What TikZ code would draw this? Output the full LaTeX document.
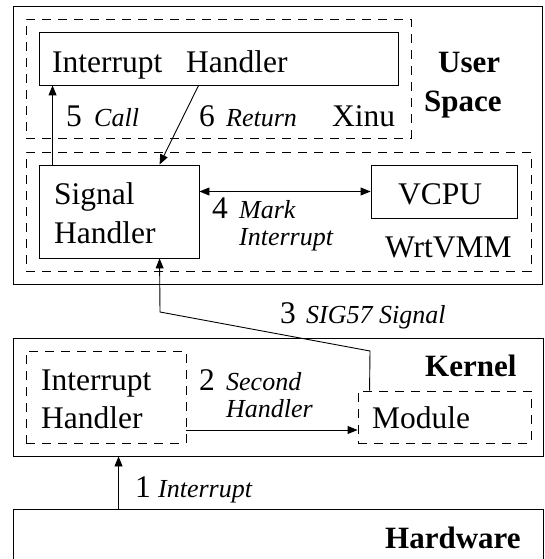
\documentclass[tikz,border=0pt]{standalone}
\usepackage{fontspec}
\setmainfont{Liberation Serif}
\usetikzlibrary{arrows.meta}
\begin{document}
\begin{tikzpicture}[x=1pt,y=-1pt,
  box/.style={draw,line width=0.9pt,rectangle,inner sep=0pt,anchor=center},
  dbox/.style={draw,line width=0.9pt,rectangle,inner sep=0pt,anchor=center,dash pattern=on 9pt off 7pt},
  conn/.style={line width=0.9pt,-{Triangle[length=10pt,width=8pt]}},
  conn2/.style={line width=0.9pt,{Triangle[length=10pt,width=8pt]}-{Triangle[length=10pt,width=8pt]}},
  txt/.style={anchor=base west,inner sep=0pt,font=\fontsize{31.5}{37}\selectfont},
  itxt/.style={anchor=base west,inner sep=0pt,font=\fontsize{26}{31}\selectfont\itshape},
  btxt/.style={anchor=base west,inner sep=0pt,font=\fontsize{31}{37}\selectfont\bfseries}]
\useasboundingbox (0,0) rectangle (544,559);
\clip (0,0) rectangle (544,559);
% boxes
\node[box,minimum width=529pt,minimum height=278pt] (user) at (277.5,145) {};
\node[dbox,minimum width=385pt,minimum height=119pt] (xinu) at (218.5,78.5) {};
\node[box,minimum width=359pt,minimum height=53pt] (ih) at (218.5,58.5) {};
\node[dbox,minimum width=505pt,minimum height=119pt] (wrt) at (278.5,211.5) {};
\node[box,minimum width=160pt,minimum height=93pt] (sig) at (119,211.5) {};
\node[box,minimum width=146pt,minimum height=53pt] (vcpu) at (444,191.5) {};
\node[box,minimum width=530pt,minimum height=118pt] (kernel) at (278,397) {};
\node[dbox,minimum width=160pt,minimum height=92pt] (kih) at (106,397) {};
\node[dbox,minimum width=173pt,minimum height=52pt] (mod) at (444.5,417) {};
\node[box,minimum width=530pt,minimum height=71pt] (hw) at (278,544.5) {};
% texts
\node[txt] (tih) at (52,73) {Interrupt\hspace{0.75em}Handler};
\node[txt] (t5) at (66,126) {5};
\node[itxt] (tcall) at (94,126) {Call};
\node[txt] (t6) at (199,126) {6};
\node[itxt] (tret) at (226,126) {Return};
\node[txt] (txinu) at (332,126) {Xinu};
\node[btxt] (tuser) at (438,73) {User};
\node[btxt] (tspace) at (424,112) {Space};
\node[txt] (tsig1) at (54,204) {Signal};
\node[txt] (tsig2) at (54,243) {Handler};
\node[txt] (tvcpu) at (398,204) {VCPU};
\node[txt] (t4) at (212,218) {4};
\node[itxt] (tmark) at (239,218) {Mark};
\node[itxt] (tmint) at (239,245) {Interrupt};
\node[txt] (twrt) at (385,257) {WrtVMM};
\node[txt] (t3) at (280,323) {3};
\node[itxt] (tsig57) at (306,323) {SIG57 Signal};
\node[btxt] (tkern) at (425,376) {Kernel};
\node[txt] (tkih1) at (41,390) {Interrupt};
\node[txt] (tkih2) at (41,428) {Handler};
\node[txt] (t2) at (199,390) {2};
\node[itxt] (tsec) at (226,390) {Second};
\node[itxt] (tsech) at (226,417) {Handler};
\node[txt] (tmod) at (372,428) {Module};
\node[txt] (t1) at (135,497) {1};
\node[itxt] (tint) at (158,497) {Interrupt};
\node[btxt] (thw) at (385,548) {Hardware};
% connectors
\coordinate (b2) at (370,351);
\coordinate (b3) at (160,312);
\draw[conn] ([xshift=14pt]sig.north west) -- ([xshift=14pt]ih.south west);
\draw[conn] ([xshift=160pt]ih.south west) -- ([xshift=121pt]sig.north west);
\draw[conn2] (sig.east |- vcpu.west) -- (vcpu.west);
\draw[conn] ([xshift=12pt]mod.north west) -- (b2) -- (b3) -- ([xshift=121pt]sig.south west);
\draw[conn] ([yshift=-33pt]kih.east) -- ([yshift=-13pt]mod.west);
\draw[conn] ([xshift=106pt]hw.north west) -- ([xshift=106pt]kernel.south west);
\end{tikzpicture}
\end{document}
